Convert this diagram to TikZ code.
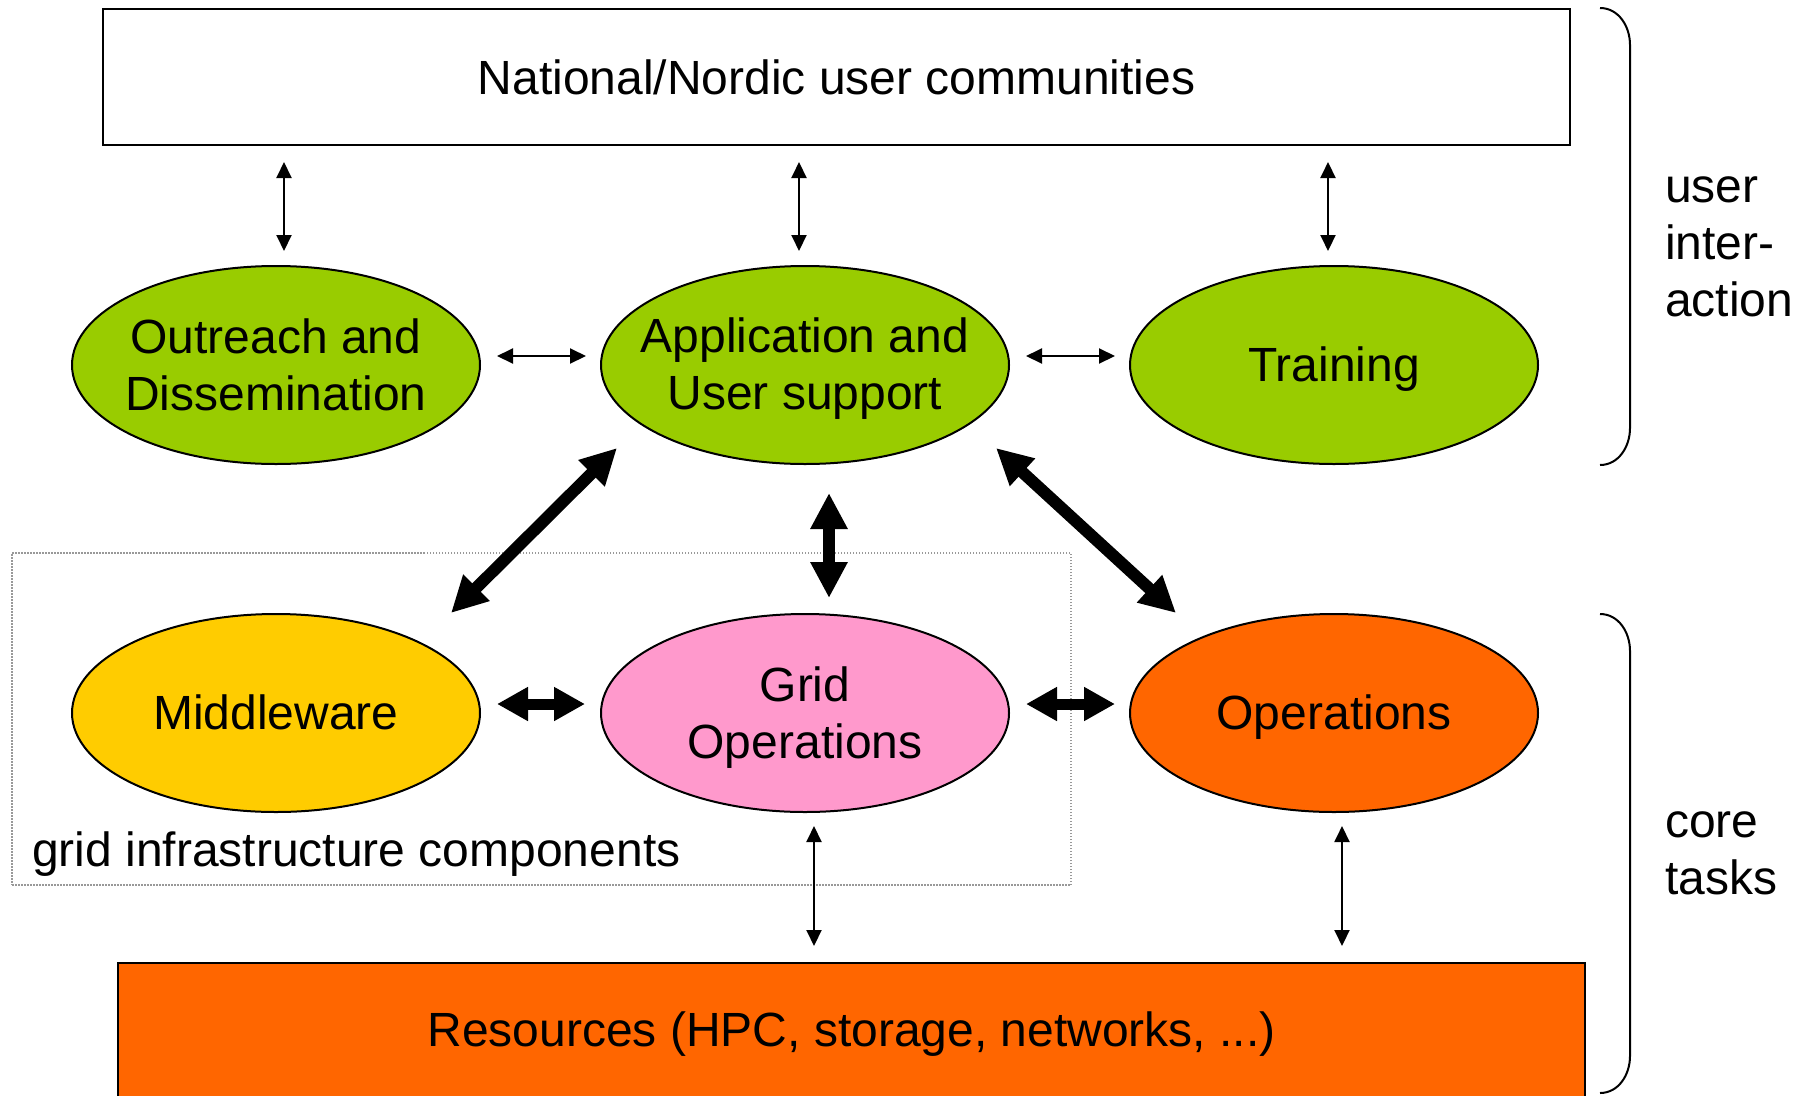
\documentclass[tikz,border=0pt]{standalone}
\usepackage{fontspec}
\setmainfont{Liberation Sans}
\usetikzlibrary{arrows.meta,shapes.geometric,calc}
\definecolor{cgreen}{HTML}{99CC00}
\definecolor{cyellow}{HTML}{FFCC00}
\definecolor{cpink}{HTML}{FF99CC}
\definecolor{corange}{HTML}{FF6600}
\begin{document}
\begin{tikzpicture}[x=1pt,y=-1pt,
  every node/.style={font=\fontsize{48}{57}\selectfont},
  ell/.style={ellipse,draw,line width=2pt,minimum width=408pt,minimum height=198pt,inner sep=0pt},
  txt/.style={align=center,inner sep=0pt},
  txtone/.style={inner sep=0pt,text height=32pt,text depth=0pt},
  bigbox/.style={rectangle,draw,line width=2pt,minimum width=1467pt,inner sep=0pt},
  thinarr/.style={line width=2pt,{Triangle[length=16pt,width=15pt]}-{Triangle[length=16pt,width=15pt]}},
  thickarr/.style={line width=12pt,{Triangle[length=36pt,width=35pt]}-{Triangle[length=36pt,width=35pt]}},
  medarr/.style={line width=11pt,{Triangle[length=31pt,width=32pt]}-{Triangle[length=31pt,width=32pt]}},
  brace/.style={line width=2pt},
]
\useasboundingbox (0,0) rectangle (1803,1095);
\clip (0,0) rectangle (1803,1095);

% grid infrastructure frame
\node[draw=gray!80,line width=1.5pt,dash pattern=on 1.5pt off 1.5pt,rectangle,minimum width=1059pt,minimum height=332pt,inner sep=0pt] (gridbox) at (541.5,719) {};
\node[anchor=west,inner sep=0pt] (gridlbl) at (32,854) {grid infrastructure components};

% boxes
\node[bigbox,minimum height=136pt] (top) at (836.5,77) {National/Nordic user communities};
\node[bigbox,fill=corange,minimum height=142pt] (res) at (851.5,1034) {Resources (HPC, storage, networks, ...)};

% ellipses
\node[ell,fill=cgreen] (out) at (276,365) {};
\node[txt] (outt) at (out.center) {Outreach and\\Dissemination};
\node[ell,fill=cgreen] (app) at (805,365) {};
\node[txt] (appt) at ($(app.center)+(0,4)$) {Application and\\User support};
\node[ell,fill=cgreen] (train) at (1334,365) {};
\node[txtone] (traint) at (train.center) {Training};
\node[ell,fill=cyellow] (mid) at (276,713) {};
\node[txtone] (midt) at (mid.center) {Middleware};
\node[ell,fill=cpink] (grid) at (805,713) {};
\node[txt] (gridt) at ($(grid.center)+(0,5)$) {Grid\\Operations};
\node[ell,fill=corange] (ops) at (1334,713) {};
\node[txtone] (opst) at (ops.center) {Operations};

% thin arrows to top box
\draw[thinarr] ($(top.south -| out.center)+(8,16)$) -- ($(out.center)+(8,-114)$);
\draw[thinarr] ($(top.south -| app.center)+(-6,16)$) -- ($(app.center)+(-6,-114)$);
\draw[thinarr] ($(top.south -| train.center)+(-6,16)$) -- ($(train.center)+(-6,-114)$);

% thin horizontal arrows
\draw[thinarr] ($(out.center)+(221,-9)$) -- ($(app.center)+(-219,-9)$);
\draw[thinarr] ($(app.center)+(221,-9)$) -- ($(train.center)+(-219,-9)$);

% thick arrows
\draw[thickarr] ($(app.center)+(-188,83)$) -- ($(mid.center)+(175,-100)$);
\draw[thickarr] ($(app.center)+(24,128)$) -- ($(grid.center)+(24,-115)$);
\draw[thickarr] ($(app.center)+(191,83)$) -- ($(ops.center)+(-158,-100)$);
\draw[medarr] ($(mid.center)+(221,-9)$) -- ($(grid.center)+(-220,-9)$);
\draw[medarr] ($(grid.center)+(221,-9)$) -- ($(ops.center)+(-219,-9)$);

% thin arrows to resources
\draw[thinarr] ($(grid.center)+(9,113)$) -- ($(res.north -| grid.center)+(9,-16)$);
\draw[thinarr] ($(ops.center)+(8,113)$) -- ($(res.north -| ops.center)+(8,-16)$);

% braces
\draw[brace] (1600,8) to[out=0,in=90] (1630,45) -- (1630,428) to[out=-90,in=0] (1600,465);
\draw[brace] (1600,614) to[out=0,in=90] (1630,651) -- (1630,1056) to[out=-90,in=0] (1600,1093);
\node[anchor=west,align=left,inner sep=0pt] (ui) at (1665,247) {user\\inter-\\action};
\node[anchor=west,align=left,inner sep=0pt] (ct) at (1665,853) {core\\tasks};
\end{tikzpicture}
\end{document}
